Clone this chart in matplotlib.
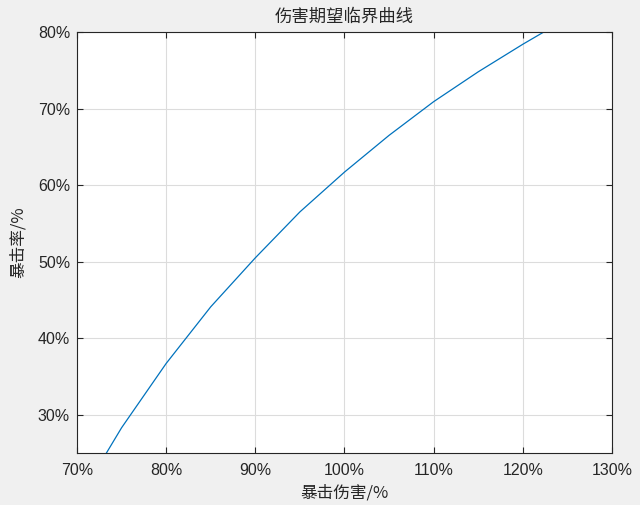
import matplotlib
matplotlib.use('Agg')

import matplotlib.pyplot as plt
from matplotlib.ticker import FuncFormatter

# data (crit damage % -> crit rate %)
crit_dmg = [70, 75, 80, 85, 90, 95, 100, 105, 110, 115, 120, 125, 130]
crit_rate = [18.6, 28.3, 36.7, 44.1, 50.5, 56.5, 61.7, 66.5, 70.9, 74.8, 78.4, 81.8, 85.0]

x_ticks = [70, 80, 90, 100, 110, 120, 130]
y_ticks = [30, 40, 50, 60, 70, 80]

cjk = ['Noto Sans CJK SC', 'DejaVu Sans']

fig = plt.figure(figsize=(6.4, 5.05), dpi=100, facecolor='#f0f0f0')
ax = fig.add_axes([77 / 640, 52 / 505, 535 / 640, 421 / 505])

ax.plot(crit_dmg, crit_rate, color='#0072BD', linewidth=0.9)

ax.set_xlim(70, 130)
ax.set_ylim(25, 80)
ax.set_xticks(x_ticks)
ax.set_yticks(y_ticks)
pct = FuncFormatter(lambda v, p: f"{v:.0f}%")
ax.xaxis.set_major_formatter(pct)
ax.yaxis.set_major_formatter(pct)

ax.grid(True, color='#dcdcdc', linewidth=0.8)
ax.set_axisbelow(True)
for s in ax.spines.values():
    s.set_color('#262626')
    s.set_linewidth(0.8)
ax.tick_params(direction='in', length=4, width=0.8, color='#262626',
               top=True, right=True, labelsize=11.5, labelcolor='#262626')
ax.tick_params(axis='x', pad=7)
ax.tick_params(axis='y', pad=5)
for lab in ax.get_xticklabels() + ax.get_yticklabels():
    lab.set_family('Liberation Sans')

ax.set_title("伤害期望临界曲线", family=cjk, fontsize=12.5, color='#262626', pad=7)
ax.set_xlabel("暴击伤害/%", family=cjk, fontsize=12, color='#262626', labelpad=5)
ax.set_ylabel("暴击率/%", family=cjk, fontsize=12, color='#262626', labelpad=8)

plt.savefig("out.png", dpi=100, facecolor=fig.get_facecolor())
